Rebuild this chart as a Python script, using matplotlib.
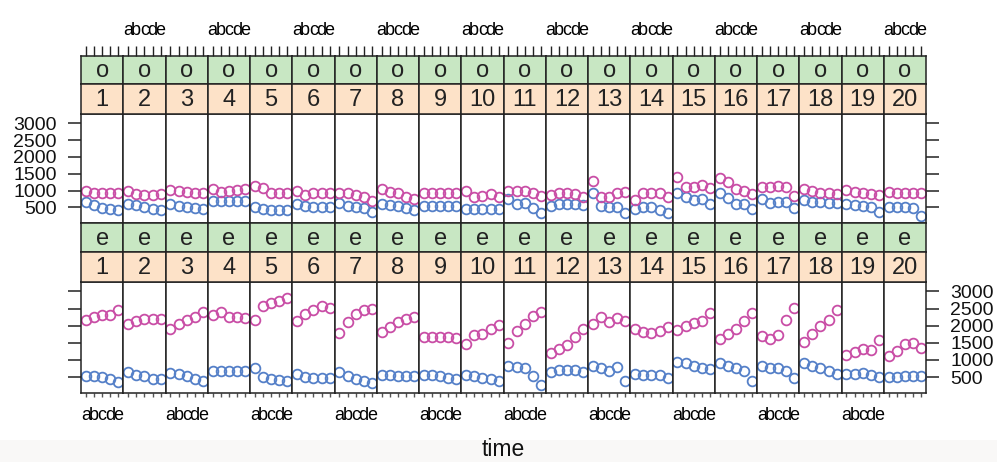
import matplotlib.pyplot as plt
from matplotlib.patches import Rectangle

plt.rcParams['font.family'] = ['Liberation Sans', 'DejaVu Sans']

W, H = 997, 462

subjects = [str(i) for i in range(1, 21)]
times = ['a', 'b', 'c', 'd', 'e']
conditions = ['o', 'e']

# condition "o" (top row), one list of 5 values (a..e) per subject
o_blue = [
    [670, 560, 490, 450, 420], [600, 560, 500, 460, 430], [590, 540, 500, 470, 450],
    [680, 680, 680, 680, 680], [500, 460, 430, 430, 430], [600, 530, 500, 500, 500],
    [620, 540, 520, 470, 370], [600, 570, 540, 470, 420], [540, 540, 540, 540, 530],
    [440, 440, 440, 440, 440], [740, 600, 620, 470, 340], [540, 600, 600, 600, 570],
    [920, 540, 520, 500, 340], [440, 500, 500, 430, 330], [940, 810, 710, 750, 600],
    [920, 770, 600, 600, 440], [740, 640, 670, 670, 470], [720, 670, 670, 640, 620],
    [600, 570, 540, 520, 370], [520, 520, 520, 470, 240],
]
o_pink = [
    [980, 930, 930, 930, 930], [1000, 890, 880, 880, 900], [1030, 980, 960, 930, 930],
    [1050, 970, 990, 1020, 1050], [1120, 1080, 930, 920, 920], [1000, 880, 930, 930, 930],
    [940, 920, 870, 800, 700], [1040, 970, 920, 820, 740], [940, 940, 940, 940, 940],
    [1000, 820, 840, 900, 820], [1000, 1000, 1000, 920, 840], [870, 920, 920, 900, 820],
    [1270, 820, 820, 920, 970], [720, 920, 940, 940, 820], [1410, 1090, 1110, 1150, 1060],
    [1370, 1240, 1040, 1000, 900], [1100, 1100, 1140, 1100, 840], [1040, 1000, 940, 940, 900],
    [1020, 970, 940, 900, 870], [970, 940, 940, 940, 940],
]

# condition "e" (bottom row)
e_blue = [
    [540, 520, 500, 430, 360], [650, 570, 530, 450, 430], [620, 590, 530, 450, 370],
    [690, 690, 680, 680, 690], [750, 500, 440, 420, 390], [600, 490, 460, 460, 460],
    [640, 520, 450, 370, 330], [570, 570, 530, 530, 530], [550, 550, 530, 470, 450],
    [570, 530, 470, 430, 370], [830, 780, 750, 530, 270], [650, 700, 700, 700, 650],
    [830, 750, 680, 800, 370], [600, 570, 570, 570, 480], [940, 910, 830, 750, 730],
    [900, 830, 750, 670, 370], [830, 750, 750, 670, 470], [900, 830, 750, 670, 600],
    [600, 600, 630, 550, 500], [500, 500, 530, 530, 530],
]
e_pink = [
    [2170, 2260, 2310, 2320, 2450], [2040, 2140, 2200, 2210, 2200], [1900, 2050, 2170, 2250, 2410],
    [2300, 2390, 2240, 2240, 2220], [2160, 2570, 2650, 2720, 2800], [2130, 2350, 2450, 2570, 2520],
    [1800, 2100, 2330, 2450, 2500], [1820, 1970, 2100, 2200, 2250], [1670, 1670, 1670, 1670, 1650],
    [1470, 1730, 1750, 1900, 2030], [1500, 1850, 2050, 2270, 2400], [1200, 1330, 1450, 1670, 1900],
    [2050, 2250, 2100, 2230, 2130], [1900, 1820, 1800, 1850, 1950], [1860, 2000, 2070, 2140, 2370],
    [1600, 1750, 1900, 2150, 2370], [1700, 1600, 1730, 2170, 2530], [1530, 1750, 2000, 2170, 2450],
    [1130, 1230, 1330, 1300, 1570], [1100, 1270, 1470, 1500, 1350],
]

yticks = [500, 1000, 1500, 2000, 2500, 3000]
blue = '#5580c8'
pink = '#c94ea6'
green = '#c8e7c3'
orange = '#fde2c8'
edge = '#222222'


def box(x0, y0, x1, y1):
    # pixel box (top-left origin) -> figure fraction rect
    return [x0 / W, 1 - y1 / H, (x1 - x0) / W, (y1 - y0) / H]


def style_frame(ax):
    for s in ax.spines.values():
        s.set_color(edge)
        s.set_linewidth(1.1)


fig = plt.figure(figsize=(W / 100, H / 100), dpi=100)
fig.patches.append(Rectangle((0, 0), 1, 22 / H, transform=fig.transFigure,
                             facecolor='#f9f8f7', edgecolor='none', zorder=0))

left, right = 81, 926
pw = (right - left) / 20
rows = [
    # green top, orange top, panel top, panel bottom
    (56, 84, 114, 223, o_blue, o_pink),
    (223, 252, 282, 393, e_blue, e_pink),
]
x = list(range(1, 6))

for r, (g0, o0, p0, p1, blues, pinks) in enumerate(rows):
    for i in range(20):
        x0 = left + i * pw
        x1 = x0 + pw

        ax = fig.add_axes(box(x0, p0, x1, p1))
        ax.plot(x, blues[i], 'o', mfc='none', mec=blue, ms=7, mew=1.3)
        ax.plot(x, pinks[i], 'o', mfc='none', mec=pink, ms=7, mew=1.3)
        ax.set_xlim(0.4, 5.6)
        ax.set_ylim(33, 3277)
        ax.set_xticks([])
        ax.set_yticks([])
        style_frame(ax)

        # y axes on outer panels
        if i == 0 or i == 19:
            ax.set_yticks(yticks)
            side_left = i == 0
            labels_on = (r == 0 and side_left) or (r == 1 and not side_left)
            ax.tick_params(axis='y', direction='out', length=9.5, width=1.1, color=edge,
                           left=side_left, right=not side_left,
                           labelleft=side_left and labels_on,
                           labelright=(not side_left) and labels_on,
                           labelsize=14, pad=8, labelcolor='#111111')

        # bottom x ticks on lower row
        if r == 1:
            ax.set_xticks(x)
            ax.set_xticklabels(times if i % 2 == 0 else [''] * 5)
            ax.tick_params(axis='x', direction='out', length=3, width=1, color='#555555',
                           labelsize=13, pad=7)

        for k, (t0, t1, col, txt) in enumerate([(g0, o0, green, conditions[r]),
                                                 (o0, p0, orange, subjects[i])]):
            sa = fig.add_axes(box(x0, t0, x1, t1))
            sa.set_facecolor(col)
            sa.set_xticks([])
            sa.set_yticks([])
            style_frame(sa)
            sa.text(0.5, 0.45, txt, ha='center', va='center', fontsize=17,
                    color='#222222', transform=sa.transAxes)
            if r == 0 and k == 0:
                sa.set_xlim(0.4, 5.6)
                sa.set_xticks(x)
                sa.set_xticklabels(times if i % 2 == 1 else [''] * 5)
                sa.tick_params(axis='x', direction='out', length=7.2, width=1, color=edge,
                               top=True, bottom=False, labeltop=True, labelbottom=False,
                               labelsize=13, pad=5)

fig.text((left + right) / 2 / W, 1 - 450 / H, 'time', ha='center', va='center',
         fontsize=16.5, color='#111111')

fig.savefig('out.png', dpi=100)
